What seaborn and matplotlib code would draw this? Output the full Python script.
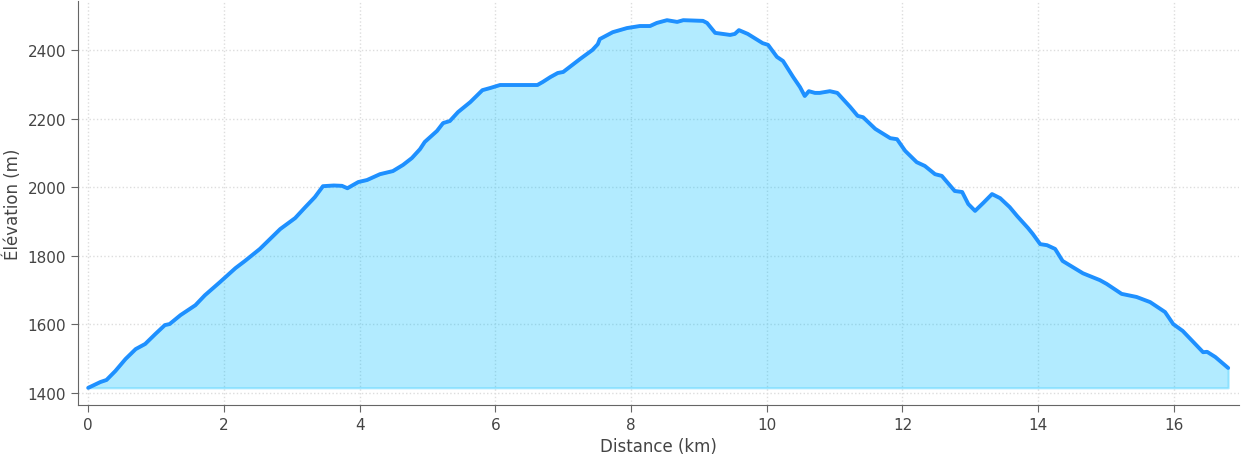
import matplotlib
matplotlib.use("Agg")
import matplotlib.pyplot as plt
import seaborn as sns
import pandas as pd

# Elevation profile (km, m), 10 points per row
dist_km = [0.00, 0.18, 0.27, 0.40, 0.55, 0.70, 0.84, 0.99, 1.13, 1.20,
           1.36, 1.58, 1.72, 1.94, 2.17, 2.31, 2.53, 2.68, 2.83, 3.05,
           3.20, 3.34, 3.46, 3.62, 3.74, 3.82, 3.98, 4.11, 4.30, 4.49,
           4.64, 4.77, 4.89, 4.96, 5.14, 5.23, 5.33, 5.45, 5.63, 5.81,
           5.92, 6.07, 6.47, 6.62, 6.70, 6.81, 6.92, 7.00, 7.25, 7.43,
           7.51, 7.54, 7.73, 7.94, 8.13, 8.28, 8.38, 8.53, 8.68, 8.77,
           9.06, 9.12, 9.24, 9.46, 9.53, 9.59, 9.72, 9.94, 10.02, 10.15,
           10.24, 10.39, 10.49, 10.56, 10.62, 10.71, 10.78, 10.93, 11.04, 11.23,
           11.34, 11.42, 11.60, 11.82, 11.92, 12.04, 12.21, 12.33, 12.48, 12.58,
           12.77, 12.88, 12.97, 13.07, 13.19, 13.32, 13.44, 13.58, 13.69, 13.85,
           13.92, 14.03, 14.13, 14.25, 14.36, 14.66, 14.91, 15.01, 15.23, 15.45,
           15.65, 15.87, 15.99, 16.13, 16.43, 16.49, 16.61, 16.80]
elev_m = [1415, 1432, 1438, 1464, 1499, 1528, 1543, 1572, 1598, 1601,
          1627, 1656, 1685, 1723, 1764, 1785, 1820, 1849, 1878, 1910,
          1942, 1971, 2003, 2005, 2004, 1997, 2015, 2021, 2038, 2047,
          2065, 2085, 2111, 2132, 2164, 2187, 2193, 2219, 2248, 2283,
          2289, 2298, 2298, 2298, 2307, 2321, 2333, 2336, 2374, 2400,
          2417, 2432, 2452, 2464, 2470, 2470, 2479, 2487, 2482, 2487,
          2485, 2479, 2450, 2444, 2447, 2458, 2447, 2420, 2415, 2380,
          2368, 2321, 2292, 2266, 2280, 2275, 2275, 2280, 2275, 2234,
          2208, 2204, 2170, 2143, 2140, 2106, 2073, 2062, 2038, 2033,
          1989, 1986, 1951, 1931, 1954, 1980, 1968, 1942, 1916, 1881,
          1864, 1834, 1831, 1820, 1785, 1749, 1729, 1718, 1689, 1680,
          1665, 1636, 1601, 1581, 1519, 1520, 1505, 1473]

df = pd.DataFrame({'distance': dist_km, 'elevation': elev_m})

sns.set_style('ticks')
plt.rcParams['font.family'] = ['DejaVu Sans']

fig = plt.figure(figsize=(12.42, 4.6), dpi=100)
ax = fig.add_axes([0.0628, 0.1174, 0.9348, 0.8783])

# Shaded area under the profile, down to the lowest point
ax.fill_between(df['distance'], df['elevation'], df['elevation'].min(),
                color='deepskyblue', alpha=0.3, linewidth=1.5)
sns.lineplot(data=df, x='distance', y='elevation', ax=ax,
             color='#1e90ff', linewidth=2.8)

ax.set_xlim(-0.15, 16.96)
ax.set_ylim(1365, 2543)
ax.set_xticks(range(0, 17, 2))
ax.set_yticks(range(1400, 2401, 200))

ax.grid(True, linestyle=':', color='#dddddd', linewidth=1)
ax.set_axisbelow(True)
sns.despine(ax=ax)
for s in ['left', 'bottom']:
    ax.spines[s].set_color('#666666')
ax.tick_params(colors='#666666', labelcolor='#444444', labelsize=11, length=5)

ax.set_xlabel('Distance (km)', fontsize=12, color='#444444')
ax.set_ylabel('Élévation (m)', fontsize=12, color='#444444')

fig.savefig('out.png', dpi=100)
